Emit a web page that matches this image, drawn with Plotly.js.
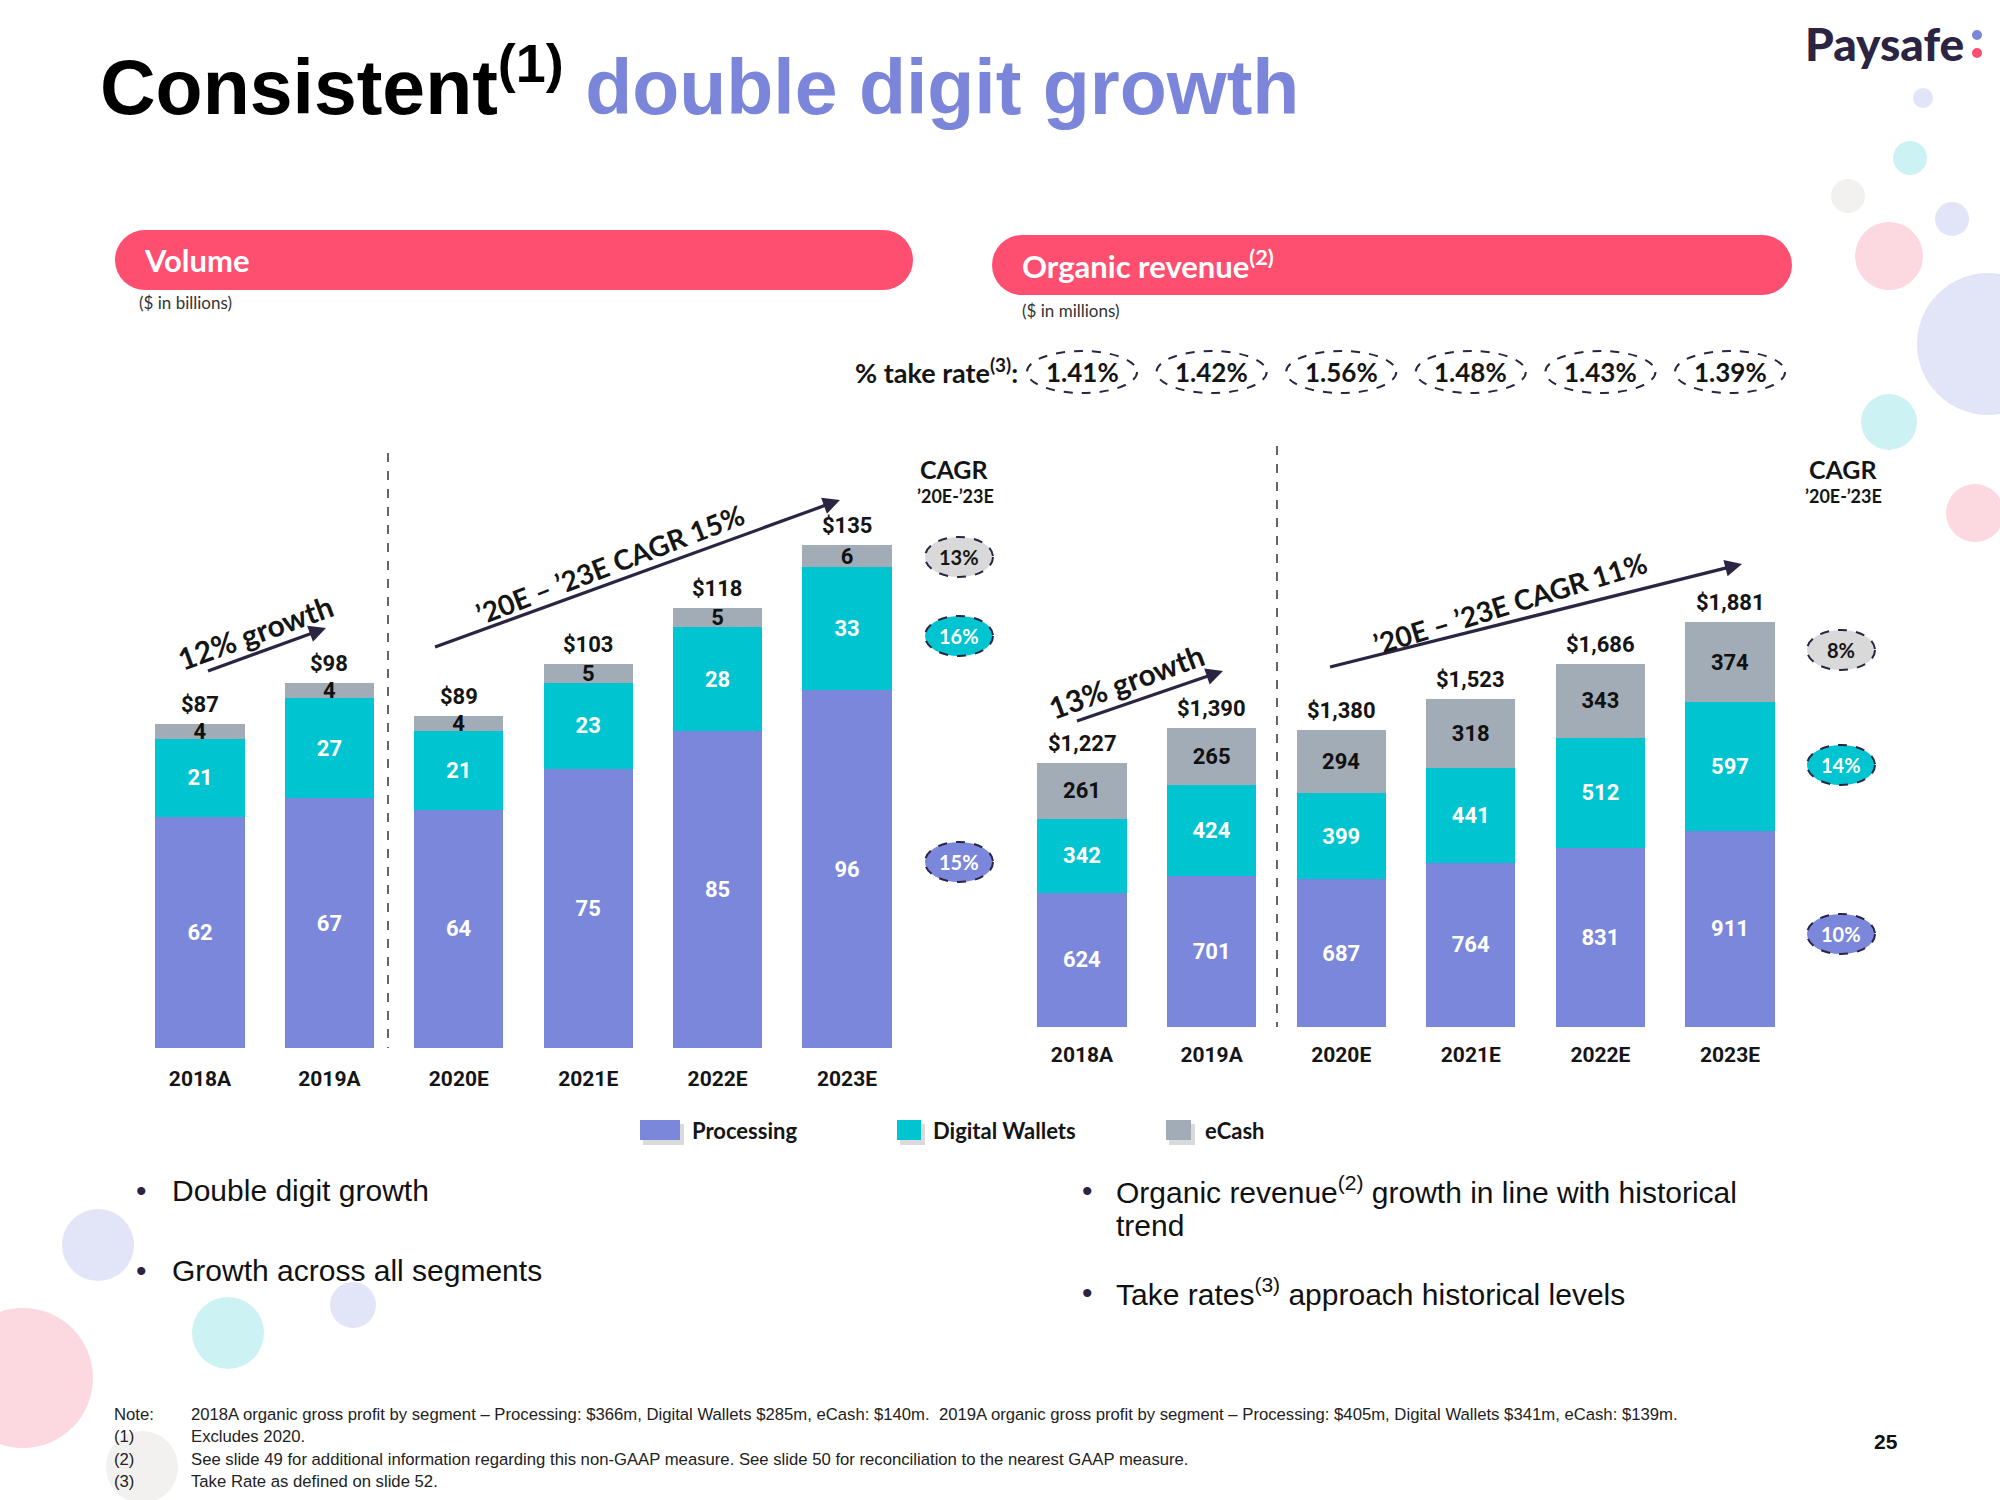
<!DOCTYPE html>
<html>
<head>
<meta charset="utf-8">
<script src="https://cdn.plot.ly/plotly-3.0.1.min.js"></script>
<style>html,body{margin:0;padding:0;background:#fff;}#chart{width:2000px;height:1500px;}</style>
</head>
<body>
<div id="chart"></div>
<script>
// ---------------- data ----------------
const years = ['2018A', '2019A', '2020E', '2021E', '2022E', '2023E'];
const segments = ['Processing', 'Digital Wallets', 'eCash'];

const volProcessing = [62, 67, 64, 75, 85, 96];
const volWallets = [21, 27, 21, 23, 28, 33];
const volECash = [4, 4, 4, 5, 5, 6];
const volTotals = [87, 98, 89, 103, 118, 135];

const revProcessing = [624, 701, 687, 764, 831, 911];
const revWallets = [342, 424, 399, 441, 512, 597];
const revECash = [261, 265, 294, 318, 343, 374];
const revTotals = [1227, 1390, 1380, 1523, 1686, 1881];

const takeRates = ['1.41%', '1.42%', '1.56%', '1.48%', '1.43%', '1.39%'];

// CAGR '20E-'23E, order: eCash, Digital Wallets, Processing
const volCagr = ['13%', '16%', '15%'];
const revCagr = ['8%', '14%', '10%'];

const volGrowthText = ['12% growth', '’20E – ’23E CAGR 15%'];
const revGrowthText = ['13% growth', '’20E – ’23E CAGR 11%'];

// ---------------- styling ----------------
const W = 2000, H = 1500;
const px = x => x / W;
const py = y => 1 - y / H;

const C_PROC = '#7B87DB', C_DW = '#00C4CF', C_EC = '#A2ACB6';
const C_PINK = '#FF4F71', C_NAVY = '#2B2442', C_TXT = '#151515';
const HEAD = 'Lato, "Source Sans Pro", "Open Sans", sans-serif';
const NARROW = 'Roboto, "Liberation Sans", sans-serif';
const ARIAL = '"Liberation Sans", Arial, Helvetica, sans-serif';

const shapes = [];
const annotations = [];

function circle(cx, cy, r, color, extra) {
  shapes.push(Object.assign({
    type: 'circle', xref: 'paper', yref: 'paper',
    x0: px(cx - r), x1: px(cx + r), y0: py(cy + r), y1: py(cy - r),
    fillcolor: color, line: {width: 0}, layer: 'below'
  }, extra || {}));
}
function ellipse(cx, cy, w, h, fill, text, tcolor, size) {
  shapes.push({
    type: 'circle', xref: 'paper', yref: 'paper',
    x0: px(cx - w / 2), x1: px(cx + w / 2), y0: py(cy + h / 2), y1: py(cy - h / 2),
    fillcolor: fill, line: {color: C_NAVY, width: 2, dash: 'dash'}, layer: 'above'
  });
  annotations.push({xref: 'paper', yref: 'paper', x: px(cx), y: py(cy), text: text, showarrow: false,
    xanchor: 'center', yanchor: 'middle', font: {family: HEAD, size: size, color: tcolor, weight: 700}});
}
function rect(x0, y0, x1, y1, color, extra) {
  shapes.push(Object.assign({
    type: 'rect', xref: 'paper', yref: 'paper',
    x0: px(x0), x1: px(x1), y0: py(y1), y1: py(y0),
    fillcolor: color, line: {width: 0}, layer: 'below'
  }, extra || {}));
}
function text(x, y, t, font, xanchor, extra) {
  annotations.push(Object.assign({xref: 'paper', yref: 'paper', x: px(x), y: py(y), text: t, showarrow: false,
    xanchor: xanchor || 'left', yanchor: 'middle', font: font}, extra || {}));
}
function pill(x0, y0, x1, y1) {
  const r = (y1 - y0) / 2;
  rect(x0 + r, y0, x1 - r, y1, C_PINK);
  circle(x0 + r, y0 + r, r, C_PINK);
  circle(x1 - r, y0 + r, r, C_PINK);
}
function arrow(tx, ty, hx, hy) {
  const len = Math.hypot(hx - tx, hy - ty);
  const dx = (hx - tx) / len, dy = (hy - ty) / len;
  const L = 17, Wd = 8.5;
  const bx = hx - dx * L, by = hy - dy * L;
  shapes.push({type: 'line', xref: 'paper', yref: 'paper', x0: px(tx), y0: py(ty),
    x1: px(bx + dx * 2), y1: py(by + dy * 2), line: {color: C_NAVY, width: 3.2}});
  const p1 = [bx - dy * Wd, by + dx * Wd], p2 = [bx + dy * Wd, by - dx * Wd];
  shapes.push({type: 'path', xref: 'paper', yref: 'paper',
    path: `M ${px(hx)} ${py(hy)} L ${px(p1[0])} ${py(p1[1])} L ${px(p2[0])} ${py(p2[1])} Z`,
    fillcolor: C_NAVY, line: {width: 0}});
}

// decorative bubbles
circle(1923, 98, 10, '#E2E5F8');
circle(1910, 158, 17, '#CDF2F4');
circle(1848, 196, 17, '#F3F1EF');
circle(1952, 219, 17, '#E2E5F8');
circle(1889, 256, 34, '#FCD9E1');
circle(1988, 344, 71, '#E2E5F8');
circle(1889, 422, 28, '#CDF2F4');
circle(1975, 513, 29, '#FCD9E1');
circle(98, 1245, 36, '#E2E5F8');
circle(353, 1305, 23, '#E2E5F8');
circle(228, 1333, 36, '#CDF2F4');
circle(23, 1378, 70, '#FCD9E1');
circle(142, 1467, 36, '#F3F1EF');

// Paysafe logo
text(1966, 44, 'Paysafe', {family: HEAD, size: 46, color: C_NAVY, weight: 900}, 'right');
circle(1977, 35, 5, C_PROC, {layer: 'above'});
circle(1977, 53, 5, C_PINK, {layer: 'above'});

// Title
text(98, 82, 'Consistent<sup>(1)</sup> <span style="color:#7B86DB">double digit growth</span>',
  {family: ARIAL, size: 77, color: '#000', weight: 700}, 'left');

// Section headers
pill(115, 230, 913, 290);
pill(992, 235, 1792, 295);
text(142, 260, 'Volume', {family: HEAD, size: 31, color: '#fff', weight: 700});
text(1020, 265, 'Organic revenue<sup>(2)</sup>', {family: HEAD, size: 31, color: '#fff', weight: 700});
text(137, 303, '($ in billions)', {family: HEAD, size: 17, color: '#333'});
text(1020, 310, '($ in millions)', {family: HEAD, size: 17, color: '#333'});

// take rates
text(1020, 371, '% take rate<sup>(3)</sup>:', {family: HEAD, size: 27, color: C_TXT, weight: 700}, 'right');
takeRates.forEach((t, i) => {
  shapes.push({type: 'circle', xref: 'x2', yref: 'paper', x0: i - 0.425, x1: i + 0.425,
    y0: py(393), y1: py(351), fillcolor: 'rgba(0,0,0,0)', line: {color: C_NAVY, width: 2, dash: 'dash'}});
  annotations.push({xref: 'x2', yref: 'paper', x: years[i], y: py(372), text: t, showarrow: false,
    xanchor: 'center', yanchor: 'middle', font: {family: HEAD, size: 26, color: C_TXT, weight: 700}});
});

// dashed dividers
shapes.push({type: 'line', xref: 'paper', yref: 'paper', x0: px(388), x1: px(388), y0: py(453), y1: py(1048),
  line: {color: '#333', width: 1.5, dash: 'dash'}});
shapes.push({type: 'line', xref: 'paper', yref: 'paper', x0: px(1277), x1: px(1277), y0: py(446), y1: py(1027),
  line: {color: '#333', width: 1.5, dash: 'dash'}});

// CAGR columns
text(954, 469, 'CAGR', {family: HEAD, size: 25, color: C_TXT, weight: 700}, 'center');
text(955, 496, '’20E-’23E', {family: HEAD, size: 18, color: C_TXT, weight: 700}, 'center');
text(1843, 469, 'CAGR', {family: HEAD, size: 25, color: C_TXT, weight: 700}, 'center');
text(1843, 496, '’20E-’23E', {family: HEAD, size: 18, color: C_TXT, weight: 700}, 'center');
ellipse(959, 557, 68, 40, '#D9D9D9', volCagr[0], C_TXT, 20);
ellipse(959, 636, 68, 40, C_DW, volCagr[1], '#fff', 20);
ellipse(959, 862, 68, 40, C_PROC, volCagr[2], '#fff', 20);
ellipse(1841, 650, 68, 40, '#D9D9D9', revCagr[0], C_TXT, 20);
ellipse(1841, 765, 68, 40, C_DW, revCagr[1], '#fff', 20);
ellipse(1841, 934, 68, 40, C_PROC, revCagr[2], '#fff', 20);

// growth arrows + labels
arrow(208, 671, 326, 628);
arrow(435, 647, 840, 500);
arrow(1077, 721, 1223, 671);
arrow(1330, 667, 1742, 564);
text(255, 632, volGrowthText[0], {family: HEAD, size: 30, color: C_TXT, weight: 700}, 'center', {textangle: -20});
text(610, 564, volGrowthText[1], {family: HEAD, size: 28, color: C_TXT, weight: 700}, 'center', {textangle: -21});
text(1126, 681, revGrowthText[0], {family: HEAD, size: 30, color: C_TXT, weight: 700}, 'center', {textangle: -20});
text(1510, 603, revGrowthText[1], {family: HEAD, size: 28, color: C_TXT, weight: 700}, 'center', {textangle: -17});

// totals above bars
volTotals.forEach((v, i) => annotations.push({xref: 'x', yref: 'y', x: years[i], y: v, text: '$' + v.toLocaleString('en-US'),
  showarrow: false, yanchor: 'bottom', yshift: 5, font: {family: NARROW, size: 22, color: C_TXT, weight: 700}}));
revTotals.forEach((v, i) => annotations.push({xref: 'x2', yref: 'y2', x: years[i], y: v, text: '$' + v.toLocaleString('en-US'),
  showarrow: false, yanchor: 'bottom', yshift: 5, font: {family: NARROW, size: 22, color: C_TXT, weight: 700}}));

// legend (manual)
const legendItems = [
  {name: segments[0], color: C_PROC, x0: 640, x1: 680, tx: 690},
  {name: segments[1], color: C_DW, x0: 897, x1: 921, tx: 931},
  {name: segments[2], color: C_EC, x0: 1166, x1: 1191, tx: 1203}
];
legendItems.forEach(it => {
  rect(it.x0 + 3, 1124, it.x1 + 4, 1145, 'rgba(150,150,150,0.35)');
  rect(it.x0, 1120, it.x1, 1140, it.color);
  text(it.tx, 1130, it.name, {family: HEAD, size: 22, color: C_TXT, weight: 700});
});

// bullets
const BF = {family: ARIAL, size: 30, color: '#111'};
const DOT = {family: ARIAL, size: 30, color: C_NAVY};
text(134, 1190, '•', DOT); text(170, 1190, 'Double digit growth', BF);
text(134, 1270, '•', DOT); text(170, 1270, 'Growth across all segments', BF);
text(1080, 1190, '•', DOT); text(1114, 1190, 'Organic revenue<sup>(2)</sup> growth in line with historical', BF);
text(1114, 1225, 'trend', BF);
text(1080, 1292, '•', DOT); text(1114, 1292, 'Take rates<sup>(3)</sup> approach historical levels', BF);

// notes
const NF = {family: ARIAL, size: 16.7, color: '#222'};
text(112, 1414, 'Note:', NF);
text(189, 1414, '2018A organic gross profit by segment – Processing: $366m, Digital Wallets $285m, eCash: $140m.  2019A organic gross profit by segment – Processing: $405m, Digital Wallets $341m, eCash: $139m.', NF);
text(112, 1436, '(1)', NF); text(189, 1436, 'Excludes 2020.', NF);
text(112, 1459, '(2)', NF); text(189, 1459, 'See slide 49 for additional information regarding this non-GAAP measure. See slide 50 for reconciliation to the nearest GAAP measure.', NF);
text(112, 1481, '(3)', NF); text(189, 1481, 'Take Rate as defined on slide 52.', NF);
text(1886, 1441, '25', {family: ARIAL, size: 21, color: '#111', weight: 700}, 'center');

// ---------------- traces ----------------
function barTrace(values, name, color, tcolor, xa, ya) {
  return {
    type: 'bar', x: years, y: values, name: name, xaxis: xa, yaxis: ya,
    marker: {color: color, line: {width: 0}},
    text: values.map(String), textposition: 'inside', insidetextanchor: 'middle', textangle: 0,
    textfont: {family: NARROW, size: 22, color: tcolor, weight: 700},
    hoverinfo: 'skip', showlegend: false
  };
}
const traces = [
  barTrace(volProcessing, segments[0], C_PROC, '#fff', 'x', 'y'),
  barTrace(volWallets, segments[1], C_DW, '#fff', 'x', 'y'),
  barTrace(volECash, segments[2], C_EC, '#111', 'x', 'y'),
  barTrace(revProcessing, segments[0], C_PROC, '#fff', 'x2', 'y2'),
  barTrace(revWallets, segments[1], C_DW, '#fff', 'x2', 'y2'),
  barTrace(revECash, segments[2], C_EC, '#111', 'x2', 'y2')
];

const tickFont = {family: 'Roboto, ' + HEAD, size: 21, color: C_TXT, weight: 700};
const layout = {
  width: W, height: H,
  margin: {l: 0, r: 0, t: 0, b: 0},
  paper_bgcolor: '#fff', plot_bgcolor: 'rgba(0,0,0,0)',
  barmode: 'stack', bargap: 0.312,
  showlegend: false,
  uniformtext: {mode: 'show', minsize: 22},
  xaxis: {domain: [0.06765, 0.45585], anchor: 'y', type: 'category', showgrid: false, zeroline: false,
    showline: false, ticks: '', tickfont: tickFont, ticklabelstandoff: 16, fixedrange: true},
  yaxis: {domain: [0.30133, 0.73333], range: [0, 173.9], visible: false, fixedrange: true},
  xaxis2: {domain: [0.5086, 0.8974], anchor: 'y2', type: 'category', showgrid: false, zeroline: false,
    showline: false, ticks: '', tickfont: tickFont, ticklabelstandoff: 13, fixedrange: true},
  yaxis2: {domain: [0.31533, 0.73333], range: [0, 2912], visible: false, fixedrange: true},
  shapes: shapes,
  annotations: annotations
};

Plotly.newPlot('chart', traces, layout, {displayModeBar: false, staticPlot: true});
</script>
</body>
</html>
